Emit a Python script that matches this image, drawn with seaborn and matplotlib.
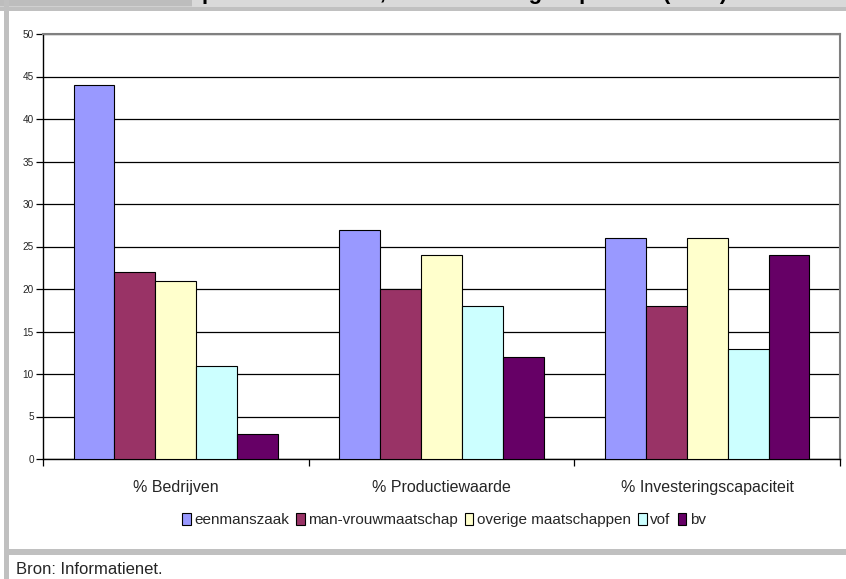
import matplotlib
matplotlib.use("Agg")
import matplotlib.pyplot as plt
import seaborn as sns
import pandas as pd
from matplotlib.patches import Rectangle, Patch

categories = ["% Bedrijven", "% Productiewaarde", "% Investeringscapaciteit"]
series = ["eenmanszaak", "man-vrouwmaatschap", "overige maatschappen", "vof", "bv"]
values = {
    "eenmanszaak": [44, 27, 26],
    "man-vrouwmaatschap": [22, 20, 18],
    "overige maatschappen": [21, 24, 26],
    "vof": [11, 18, 13],
    "bv": [3, 12, 24],
}
colors = ["#9999FF", "#993366", "#FFFFCC", "#CCFFFF", "#660066"]
yticks = [0, 5, 10, 15, 20, 25, 30, 35, 40, 45, 50]
title_text = "productiewaarde, en investeringscapaciteit (1997)"
source_text = "Bron: Informatienet."

rows = []
for s in series:
    for c, v in zip(categories, values[s]):
        rows.append({"categorie": c, "serie": s, "waarde": v})
df = pd.DataFrame(rows)

sns.set_theme(style="white")
plt.rcParams["font.family"] = ["Liberation Sans", "DejaVu Sans"]

W, H = 846, 579
fig = plt.figure(figsize=(W / 100, H / 100), dpi=100)
fig.patch.set_facecolor("white")

def px_rect(x0, y0, x1, y1, color, z=0):
    fig.patches.append(Rectangle((x0 / W, 1 - y1 / H), (x1 - x0) / W, (y1 - y0) / H,
                                 transform=fig.transFigure, facecolor=color,
                                 edgecolor="none", zorder=z))

# frame decorations
px_rect(0, 0, W, 11, "#c0c0c0")
px_rect(0, 0, 192, 6, "#bdbdbd")
px_rect(0, 6, 192, 7, "#d0d0d0")
px_rect(192, 0, W, 7, "#d9d9d9")
px_rect(4, 0, 9, H, "#c0c0c0")
px_rect(9, 549, W, 555, "#c0c0c0")

fig.text(202 / W, 1 + 1 / H, title_text, fontsize=16, fontweight="bold",
         ha="left", va="baseline", color="black")

ax = fig.add_axes([43 / W, 1 - 459 / H, (840 - 43) / W, (459 - 34) / H])
sns.barplot(data=df, x="categorie", y="waarde", hue="serie", order=categories,
            hue_order=series, palette=colors, width=0.77, gap=0,
            edgecolor="black", linewidth=0.8, saturation=1, ax=ax, legend=False,
            zorder=3)

ax.set_ylim(0, 50)
ax.set_xlim(-0.5, 2.5)
ax.set_yticks(yticks)
ax.set_yticklabels([str(t) for t in yticks], fontsize=7.2)
ax.yaxis.grid(True, color="black", linewidth=0.9)
ax.set_axisbelow(True)
ax.set_xlabel("")
ax.set_ylabel("")
ax.tick_params(axis="y", which="major", direction="out", length=5, width=0.9,
               color="black", left=True, pad=1.5)
ax.tick_params(axis="x", which="major", length=0, labelsize=11.5, pad=15)
ax.set_xticks([-0.5, 0.5, 1.5, 2.5], minor=True)
ax.tick_params(axis="x", which="minor", direction="out", length=5, width=0.9,
               color="black", bottom=True)
for side in ["top", "right"]:
    ax.spines[side].set_color("#808080")
    ax.spines[side].set_linewidth(1.5)
for side in ["left", "bottom"]:
    ax.spines[side].set_color("black")
    ax.spines[side].set_linewidth(1.0)

handles = [Patch(facecolor=c, edgecolor="black", linewidth=0.8, label=s)
           for s, c in zip(series, colors)]
fig.legend(handles=handles, loc="center", bbox_to_anchor=(444 / W, 1 - 520 / H),
           ncol=5, frameon=False, handlelength=0.55, handleheight=0.85,
           handletextpad=0.25, columnspacing=0.45, prop={"size": 11})

fig.text(16 / W, 1 - 569 / H, source_text, fontsize=12, ha="left", va="center")

fig.savefig("out.png", dpi=100)
